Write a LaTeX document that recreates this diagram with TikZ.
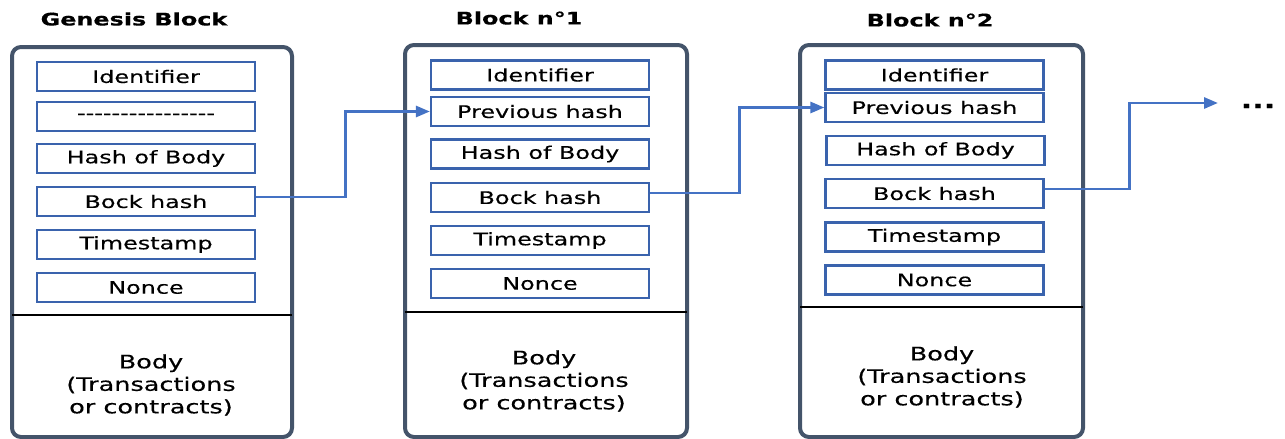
\documentclass[tikz,border=0pt]{standalone}
\usepackage{fontspec}
\setmainfont{DejaVu Sans}[FakeStretch=1.38, FakeBold=0.4]
\usetikzlibrary{arrows.meta}
\definecolor{outerc}{HTML}{44546A}
\definecolor{innerc}{HTML}{3A63AD}
\definecolor{arrowc}{HTML}{4472C4}
\begin{document}
\begin{tikzpicture}[x=1pt,y=-1pt,
  field/.style={draw=innerc, line width=2.2pt, minimum width=218pt, minimum height=29pt, inner sep=0pt, font=\fontsize{17.3}{20}\selectfont},
  blockbox/.style={draw=outerc, line width=4pt, rounded corners=9pt, inner sep=0pt},
  titletext/.style={font=\fontsize{17.3}{20}\selectfont\bfseries},
  bodytext/.style={align=center, font=\fontsize{18.5}{22.5}\selectfont},
  sepline/.style={draw=black, line width=2.8pt},
  link/.style={draw=arrowc, line width=2.8pt, -{Triangle[length=14pt,width=11pt]}}]
\useasboundingbox (0,0) rectangle (1285,439);

% ---------- Genesis block ----------
\node[blockbox, minimum width=280pt, minimum height=390pt] (b0) at (152,242) {};
\node[titletext] (t0) at (134,19) {Genesis Block};
\node[field] (g1) at (146,76.5) {Identifier};
\node[field] (g2) at (146,116.5) {-{}-{}-{}-{}-{}-{}-{}-{}-{}-{}-{}-{}-{}-{}-{}-};
\node[field] (g3) at (146,158.5) {Hash of Body};
\node[field] (g4) at (146,201.5) {Bock hash};
\node[field] (g5) at (146,244.5) {Timestamp};
\node[field] (g6) at (146,287.5) {Nonce};
\draw[sepline] (12,315) -- (292,315);
\node[bodytext] (gb) at (151,385) {Body\\(Transactions\\or contracts)};

% ---------- Block 1 ----------
\node[blockbox, minimum width=282pt, minimum height=392pt] (b1) at (546,241) {};
\node[titletext] (t1) at (519,18) {Block n°1};
\node[field] (a1) at (540,75) {Identifier};
\node[field] (a2) at (540,111.5) {Previous hash};
\node[field] (a3) at (540,154) {Hash of Body};
\node[field] (a4) at (540,197.5) {Bock hash};
\node[field] (a5) at (540,240.5) {Timestamp};
\node[field] (a6) at (540,283.5) {Nonce};
\draw[sepline] (405,312) -- (687,312);
\node[bodytext] (ab) at (544,381) {Body\\(Transactions\\or contracts)};

% ---------- Block 2 ----------
\node[blockbox, minimum width=283pt, minimum height=392pt] (b2) at (941.5,241) {};
\node[titletext] (t2) at (930,20) {Block n°2};
\node[field] (c1) at (934.5,75) {Identifier};
\node[field] (c2) at (934.5,107.5) {Previous hash};
\node[field] (c3) at (935.5,150.5) {Hash of Body};
\node[field] (c4) at (934.5,193.5) {Bock hash};
\node[field] (c5) at (934.5,237) {Timestamp};
\node[field] (c6) at (934.5,280) {Nonce};
\draw[sepline] (800,307) -- (1083,307);
\node[bodytext] (cb) at (942,377) {Body\\(Transactions\\or contracts)};

% ---------- links ----------
\coordinate (next) at (1218,103);
\node[font=\fontsize{22}{24}\selectfont\bfseries] (dots) at (1258,106) {...};
\draw[link] ([yshift=4.5pt]g4.east) -- ++(89,0) |- (a2.west);
\draw[link] ([yshift=4.5pt]a4.east) -- ++(89,0) |- (c2.west);
\draw[link] ([yshift=4.5pt]c4.east) -- ++(85,0) |- (next);
\end{tikzpicture}
\end{document}
